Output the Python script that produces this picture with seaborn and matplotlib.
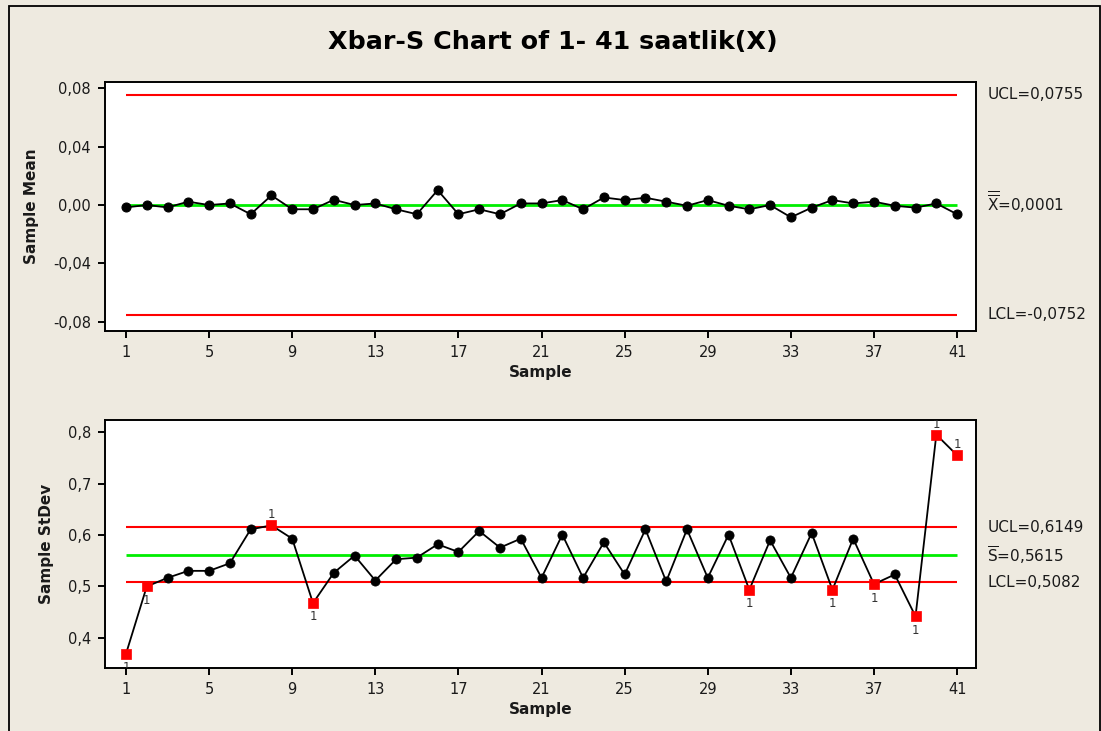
import numpy as np
import pandas as pd
import matplotlib
matplotlib.use("Agg")
import matplotlib.pyplot as plt
from matplotlib.patches import Rectangle
from matplotlib.ticker import FuncFormatter
import seaborn as sns

# ---------------- data ----------------
samples = list(range(1, 42))
sample_means = [-0.0016, 0.0000, -0.0016, 0.0023, 0.0000, 0.0011, -0.0063, 0.0066, -0.0029, -0.0029,
                0.0036, 0.0000, 0.0011, -0.0029, -0.0063, 0.0102, -0.0063, -0.0029, -0.0063, 0.0011,
                0.0011, 0.0034, -0.0029, 0.0052, 0.0034, 0.0050, 0.0023, -0.0005, 0.0034, -0.0005,
                -0.0029, 0.0000, -0.0084, -0.0018, 0.0034, 0.0011, 0.0023, -0.0005, -0.0018, 0.0011,
                -0.0063]
sample_sd = [0.3685, 0.4998, 0.5166, 0.5302, 0.5302, 0.5450, 0.6110, 0.6188, 0.5929, 0.4674,
             0.5263, 0.5599, 0.5114, 0.5528, 0.5560, 0.5819, 0.5670, 0.6078, 0.5754, 0.5929,
             0.5166, 0.6007, 0.5166, 0.5858, 0.5231, 0.6110, 0.5095, 0.6110, 0.5166, 0.6007,
             0.4933, 0.5897, 0.5166, 0.6039, 0.4933, 0.5929, 0.5043, 0.5231, 0.4416, 0.7954,
             0.7553]
xbar_limits = {"UCL": 0.0755, "CL": 0.0001, "LCL": -0.0752}
s_limits = {"UCL": 0.6149, "CL": 0.5615, "LCL": 0.5082}
x_ticks = list(range(1, 42, 4))
mean_ticks = [-0.08, -0.04, 0.0, 0.04, 0.08]
sd_ticks = [0.4, 0.5, 0.6, 0.7, 0.8]
title = "Xbar-S Chart of 1- 41 saatlik(X)"

# ---------------- style ----------------
sns.set_style("ticks")
bg = "#EEEAE0"
plt.rcParams["font.family"] = ["DejaVu Sans"]
plt.rcParams["mathtext.fontset"] = "dejavusans"

W, H = 1101, 731
fig = plt.figure(figsize=(W / 100, H / 100), dpi=100, facecolor=bg)

def frac_rect(x0, y0, x1, y1):
    return [x0 / W, 1 - y1 / H, (x1 - x0) / W, (y1 - y0) / H]

ax1 = fig.add_axes(frac_rect(105, 82, 976, 331))
ax2 = fig.add_axes(frac_rect(105, 420, 976, 668))

text_col = "#1a1a1a"

def style_axis(ax):
    ax.set_facecolor("white")
    for sp in ax.spines.values():
        sp.set_visible(True)
        sp.set_linewidth(1.4)
        sp.set_color("black")
    ax.tick_params(axis="both", direction="out", length=5, width=1.4,
                   labelsize=10.5, colors="black", labelcolor=text_col, pad=5)
    ax.set_xticks(x_ticks)
    ax.set_xlim(-0.01, 41.91)
    ax.set_xlabel("Sample", fontsize=11, fontweight="bold", labelpad=4, color=text_col)

# ---------------- top: Xbar chart ----------------
df_mean = pd.DataFrame({"Sample": samples, "Mean": sample_means})
ax1.hlines([xbar_limits["UCL"], xbar_limits["LCL"]], samples[0], samples[-1],
           colors="#FF0000", linewidth=1.5, zorder=1)
ax1.hlines(xbar_limits["CL"], samples[0], samples[-1], colors="#00EE00", linewidth=2, zorder=1)
sns.lineplot(data=df_mean, x="Sample", y="Mean", ax=ax1, color="black", linewidth=1.3,
             marker="o", markersize=6.5, markeredgecolor="black", zorder=3)
ax1.set_ylim(-0.0863, 0.0843)
ax1.set_yticks(mean_ticks)
ax1.yaxis.set_major_formatter(FuncFormatter(lambda v, p: f"{v:.2f}".replace(".", ",").replace("-0,00", "0,00")))
style_axis(ax1)
ax1.set_ylabel("Sample Mean", fontsize=11, fontweight="bold", labelpad=10, color=text_col)

lbl_kw = dict(fontsize=11, color=text_col, ha="left", va="center")
tr1 = ax1.get_yaxis_transform()
ax1.text(1.013, xbar_limits["UCL"], "UCL=0,0755", transform=tr1, **lbl_kw)
ax1.text(1.013, xbar_limits["CL"] + 0.002, r"$\overline{\overline{\mathrm{X}}}$=0,0001", transform=tr1, **lbl_kw)
ax1.text(1.013, xbar_limits["LCL"], "LCL=-0,0752", transform=tr1, **lbl_kw)

# ---------------- bottom: S chart ----------------
df_sd = pd.DataFrame({"Sample": samples, "StDev": sample_sd})
df_sd["flag"] = (df_sd["StDev"] > s_limits["UCL"]) | (df_sd["StDev"] < s_limits["LCL"])
ax2.hlines([s_limits["UCL"], s_limits["LCL"]], samples[0], samples[-1],
           colors="#FF0000", linewidth=1.5, zorder=1)
ax2.hlines(s_limits["CL"], samples[0], samples[-1], colors="#00EE00", linewidth=2, zorder=1)
sns.lineplot(data=df_sd, x="Sample", y="StDev", ax=ax2, color="black", linewidth=1.3, zorder=2)
sns.scatterplot(data=df_sd[~df_sd["flag"]], x="Sample", y="StDev", ax=ax2, color="black",
                marker="o", s=44, edgecolor="black", linewidth=0.5, zorder=3)
sns.scatterplot(data=df_sd[df_sd["flag"]], x="Sample", y="StDev", ax=ax2, color="#FF0000",
                marker="s", s=44, edgecolor="#FF0000", linewidth=0.5, zorder=3)
for _, r in df_sd[df_sd["flag"]].iterrows():
    above = r["StDev"] > s_limits["UCL"]
    ax2.annotate("1", (r["Sample"], r["StDev"]), xytext=(0, 7.5 if above else -10),
                 textcoords="offset points", ha="center", va="center",
                 fontsize=8.5, color="#333333", zorder=4, annotation_clip=False, clip_on=True)
ax2.set_ylim(0.341, 0.824)
ax2.set_yticks(sd_ticks)
ax2.yaxis.set_major_formatter(FuncFormatter(lambda v, p: f"{v:.1f}".replace(".", ",")))
style_axis(ax2)
ax2.set_ylabel("Sample StDev", fontsize=11, fontweight="bold", labelpad=10, color=text_col)

tr2 = ax2.get_yaxis_transform()
ax2.text(1.013, s_limits["UCL"], "UCL=0,6149", transform=tr2, **lbl_kw)
ax2.text(1.013, s_limits["CL"], r"$\overline{\mathrm{S}}$=0,5615", transform=tr2, **lbl_kw)
ax2.text(1.013, s_limits["LCL"], "LCL=0,5082", transform=tr2, **lbl_kw)

# ---------------- title & frame ----------------
fig.text(553 / W, 1 - 42 / H, title, ha="center", va="center", fontsize=18.3,
         fontweight="bold", color="black")
fig.add_artist(Rectangle((8.5 / W, -0.05), (1100 - 8.5) / W, 1.05 - 6.5 / H,
                         transform=fig.transFigure, fill=False, edgecolor="black", linewidth=1.3))

fig.savefig("out.png", dpi=100, facecolor=bg)
